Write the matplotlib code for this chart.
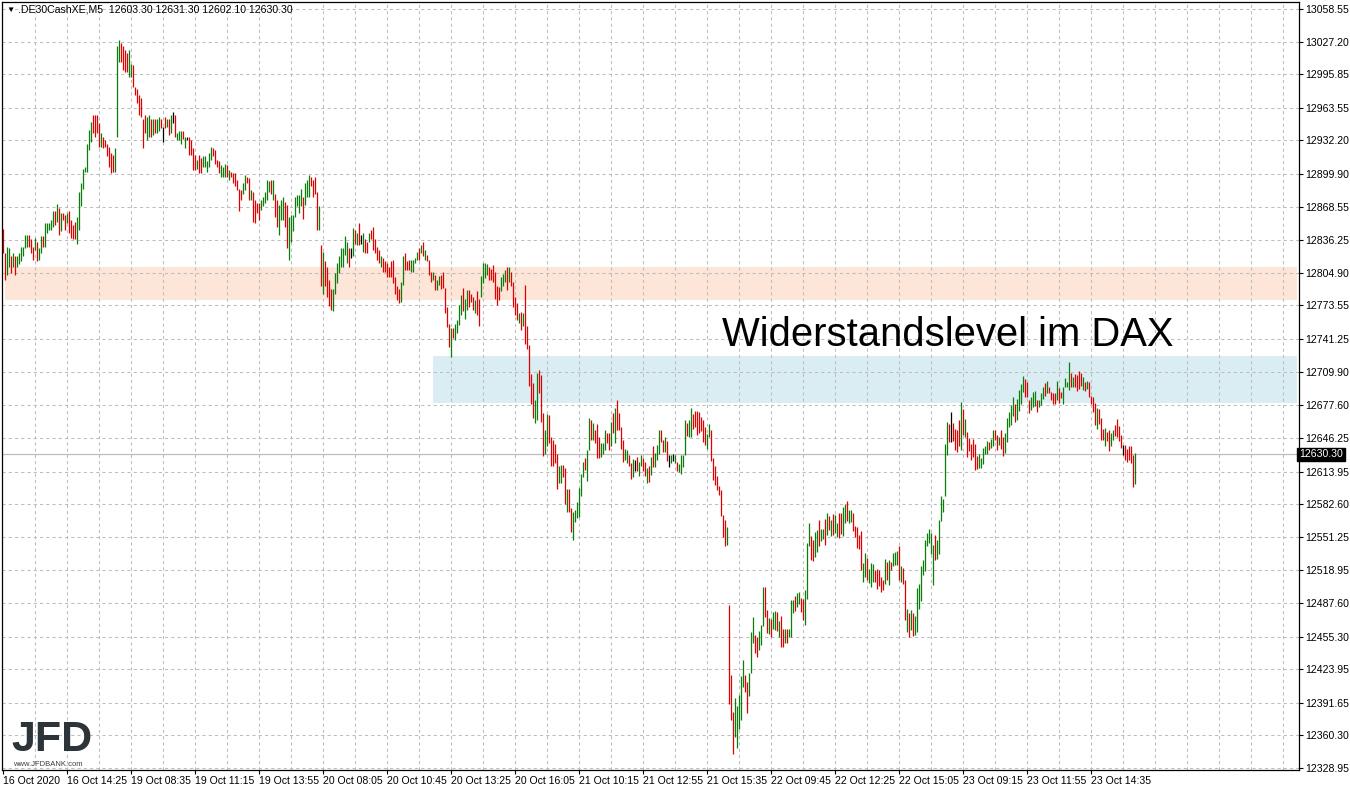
import matplotlib.pyplot as plt
from matplotlib.patches import Rectangle

plt.rcParams['font.family'] = ['Liberation Sans', 'DejaVu Sans']

# DE30 M5 bars, 16 Oct 11:45 .. 23 Oct 16:25 (high / low per bar, colour = up/down)
highs = [
    12847, 12824, 12830, 12829, 12821, 12824, 12821, 12821, 12824, 12830,
    12830, 12841, 12841, 12841, 12837, 12830, 12838, 12835, 12829, 12840,
    12840, 12853, 12853, 12853, 12856, 12864, 12864, 12871, 12867, 12862,
    12862, 12861, 12862, 12864, 12856, 12851, 12854, 12859, 12883, 12891,
    12905, 12907, 12929, 12942, 12950, 12957, 12957, 12957, 12949, 12939,
    12936, 12933, 12929, 12926, 12920, 12918, 12925, 13023, 13029, 13026,
    13023, 13019, 13016, 13019, 13006, 13005, 12984, 12982, 12976, 12973,
    12953, 12957, 12955, 12957, 12953, 12953, 12953, 12953, 12955, 12953,
    12945, 12955, 12953, 12953, 12957, 12960, 12957, 12939, 12941, 12941,
    12941, 12936, 12936, 12936, 12933, 12925, 12918, 12913, 12918, 12915,
    12917, 12917, 12912, 12920, 12926, 12925, 12923, 12913, 12912, 12909,
    12907, 12910, 12909, 12904, 12902, 12901, 12901, 12894, 12886, 12885,
    12891, 12899, 12897, 12896, 12885, 12883, 12875, 12872, 12872, 12875,
    12878, 12883, 12894, 12893, 12894, 12894, 12881, 12875, 12870, 12875,
    12878, 12873, 12870, 12859, 12861, 12861, 12878, 12880, 12880, 12886,
    12878, 12891, 12894, 12899, 12897, 12894, 12897, 12883, 12869, 12832,
    12825, 12816, 12811, 12798, 12789, 12789, 12805, 12814, 12821, 12829,
    12829, 12840, 12835, 12829, 12829, 12848, 12846, 12843, 12853, 12841,
    12843, 12837, 12835, 12843, 12846, 12849, 12837, 12830, 12827, 12821,
    12819, 12816, 12814, 12811, 12816, 12817, 12801, 12792, 12789, 12796,
    12821, 12824, 12816, 12817, 12817, 12817, 12819, 12825, 12829, 12832,
    12835, 12827, 12822, 12817, 12806, 12806, 12803, 12798, 12802, 12803,
    12806, 12790, 12772, 12756, 12752, 12752, 12756, 12760, 12774, 12784,
    12790, 12780, 12788, 12788, 12785, 12782, 12779, 12787, 12780, 12802,
    12814, 12814, 12813, 12811, 12809, 12812, 12806, 12792, 12791, 12801,
    12804, 12808, 12811, 12811, 12806, 12796, 12782, 12776, 12766, 12767,
    12766, 12793, 12754, 12736, 12708, 12699, 12683, 12709, 12712, 12707,
    12670, 12654, 12669, 12668, 12647, 12644, 12640, 12631, 12619, 12620,
    12620, 12617, 12597, 12597, 12579, 12575, 12577, 12585, 12598, 12612,
    12623, 12627, 12635, 12665, 12663, 12661, 12654, 12660, 12647, 12641,
    12641, 12654, 12651, 12651, 12662, 12670, 12675, 12683, 12670, 12657,
    12644, 12636, 12635, 12630, 12622, 12626, 12625, 12628, 12623, 12630,
    12627, 12623, 12617, 12619, 12628, 12638, 12632, 12639, 12654, 12654,
    12644, 12647, 12643, 12630, 12630, 12631, 12630, 12623, 12621, 12630,
    12630, 12663, 12661, 12663, 12675, 12669, 12672, 12672, 12671, 12666,
    12663, 12657, 12650, 12660, 12654, 12627, 12619, 12610, 12600, 12596,
    12572, 12567, 12561, 12486, 12418, 12383, 12396, 12389, 12399, 12417,
    12433, 12418, 12412, 12420, 12460, 12474, 12457, 12455, 12461, 12466,
    12503, 12503, 12481, 12473, 12472, 12479, 12480, 12479, 12470, 12475,
    12463, 12463, 12463, 12463, 12490, 12490, 12494, 12497, 12498, 12492,
    12491, 12500, 12545, 12564, 12552, 12548, 12556, 12558, 12567, 12559,
    12559, 12568, 12574, 12571, 12567, 12573, 12572, 12564, 12574, 12574,
    12580, 12583, 12586, 12577, 12577, 12574, 12562, 12561, 12553, 12557,
    12526, 12536, 12531, 12520, 12526, 12525, 12519, 12520, 12519, 12513,
    12510, 12530, 12527, 12529, 12527, 12536, 12537, 12538, 12542, 12523,
    12521, 12510, 12482, 12478, 12481, 12478, 12475, 12502, 12506, 12523,
    12529, 12548, 12555, 12559, 12555, 12543, 12553, 12548, 12567, 12590,
    12588, 12640, 12662, 12660, 12671, 12661, 12655, 12654, 12663, 12681,
    12674, 12664, 12652, 12646, 12640, 12645, 12640, 12629, 12631, 12627,
    12637, 12638, 12643, 12642, 12645, 12654, 12654, 12649, 12647, 12654,
    12647, 12651, 12665, 12671, 12678, 12686, 12679, 12684, 12692, 12698,
    12706, 12703, 12700, 12683, 12686, 12690, 12691, 12683, 12683, 12689,
    12695, 12699, 12701, 12695, 12690, 12689, 12689, 12701, 12694, 12690,
    12695, 12704, 12700, 12719, 12709, 12705, 12708, 12707, 12711, 12709,
    12705, 12700, 12701, 12700, 12687, 12686, 12680, 12675, 12674, 12665,
    12655, 12656, 12652, 12654, 12651, 12654, 12659, 12664, 12658, 12649,
    12639, 12639, 12636, 12638, 12638, 12630, 12631.3,
]
lows = [
    12824, 12798, 12803, 12811, 12805, 12811, 12803, 12811, 12813, 12816,
    12821, 12829, 12830, 12830, 12824, 12817, 12827, 12816, 12817, 12824,
    12830, 12830, 12843, 12846, 12846, 12849, 12851, 12854, 12841, 12845,
    12856, 12846, 12853, 12843, 12838, 12837, 12837, 12833, 12846, 12869,
    12886, 12902, 12902, 12923, 12931, 12939, 12936, 12939, 12926, 12926,
    12925, 12926, 12917, 12907, 12901, 12902, 12902, 12936, 13008, 13008,
    13000, 12998, 12998, 12993, 12993, 12984, 12976, 12968, 12957, 12955,
    12925, 12939, 12933, 12936, 12936, 12937, 12939, 12939, 12941, 12944,
    12931, 12944, 12945, 12937, 12939, 12949, 12936, 12933, 12933, 12929,
    12934, 12925, 12933, 12918, 12918, 12904, 12904, 12905, 12901, 12901,
    12907, 12907, 12902, 12907, 12913, 12917, 12910, 12907, 12901, 12897,
    12897, 12897, 12897, 12894, 12897, 12891, 12888, 12885, 12864, 12875,
    12881, 12885, 12891, 12875, 12875, 12854, 12853, 12862, 12856, 12865,
    12869, 12872, 12875, 12883, 12881, 12875, 12859, 12849, 12841, 12856,
    12856, 12849, 12829, 12817, 12835, 12845, 12859, 12869, 12862, 12869,
    12857, 12870, 12878, 12878, 12888, 12878, 12881, 12846, 12846, 12792,
    12785, 12792, 12782, 12773, 12769, 12768, 12785, 12795, 12805, 12811,
    12811, 12822, 12814, 12811, 12819, 12821, 12833, 12832, 12832, 12833,
    12825, 12824, 12824, 12835, 12837, 12827, 12824, 12817, 12814, 12811,
    12806, 12806, 12801, 12801, 12801, 12795, 12785, 12779, 12776, 12777,
    12793, 12808, 12808, 12808, 12806, 12806, 12814, 12817, 12817, 12824,
    12821, 12817, 12816, 12803, 12796, 12798, 12788, 12788, 12793, 12789,
    12790, 12766, 12753, 12734, 12724, 12742, 12740, 12747, 12755, 12764,
    12768, 12761, 12769, 12772, 12777, 12769, 12766, 12764, 12754, 12782,
    12795, 12800, 12803, 12798, 12798, 12796, 12780, 12774, 12779, 12787,
    12792, 12796, 12788, 12796, 12792, 12772, 12764, 12760, 12757, 12750,
    12754, 12737, 12732, 12696, 12679, 12665, 12661, 12663, 12689, 12662,
    12629, 12631, 12638, 12641, 12619, 12619, 12622, 12597, 12603, 12603,
    12609, 12583, 12575, 12575, 12556, 12548, 12565, 12569, 12570, 12590,
    12609, 12615, 12605, 12635, 12644, 12644, 12641, 12627, 12627, 12628,
    12631, 12635, 12641, 12635, 12638, 12651, 12641, 12654, 12654, 12636,
    12623, 12625, 12622, 12619, 12607, 12609, 12614, 12614, 12610, 12619,
    12614, 12610, 12603, 12604, 12611, 12618, 12618, 12625, 12631, 12642,
    12633, 12633, 12624, 12618, 12622, 12624, 12622, 12614, 12613, 12612,
    12618, 12630, 12648, 12647, 12647, 12655, 12657, 12649, 12651, 12653,
    12642, 12639, 12636, 12647, 12624, 12606, 12601, 12596, 12591, 12571,
    12551, 12542, 12543, 12390, 12375, 12342, 12359, 12348, 12366, 12375,
    12407, 12402, 12382, 12398, 12420, 12449, 12439, 12436, 12442, 12447,
    12465, 12474, 12459, 12458, 12455, 12463, 12462, 12461, 12455, 12445,
    12445, 12449, 12449, 12455, 12455, 12478, 12480, 12484, 12487, 12479,
    12471, 12466, 12491, 12542, 12529, 12528, 12532, 12537, 12542, 12547,
    12549, 12543, 12553, 12558, 12552, 12553, 12555, 12551, 12550, 12554,
    12552, 12564, 12566, 12564, 12565, 12557, 12551, 12540, 12539, 12519,
    12508, 12513, 12510, 12507, 12503, 12508, 12508, 12501, 12504, 12498,
    12500, 12506, 12510, 12505, 12519, 12523, 12524, 12524, 12510, 12508,
    12506, 12471, 12460, 12455, 12462, 12456, 12457, 12460, 12482, 12489,
    12514, 12518, 12542, 12545, 12535, 12505, 12529, 12530, 12535, 12566,
    12575, 12590, 12630, 12642, 12642, 12643, 12635, 12633, 12638, 12635,
    12649, 12647, 12628, 12634, 12625, 12628, 12615, 12616, 12617, 12617,
    12621, 12631, 12631, 12635, 12637, 12638, 12644, 12635, 12639, 12636,
    12629, 12632, 12642, 12657, 12659, 12667, 12662, 12663, 12672, 12679,
    12690, 12686, 12686, 12670, 12673, 12676, 12677, 12671, 12676, 12678,
    12684, 12687, 12689, 12689, 12683, 12679, 12679, 12683, 12680, 12685,
    12679, 12695, 12695, 12692, 12695, 12695, 12695, 12691, 12693, 12696,
    12692, 12691, 12693, 12686, 12679, 12671, 12659, 12655, 12660, 12644,
    12644, 12638, 12643, 12634, 12638, 12644, 12648, 12647, 12643, 12637,
    12630, 12625, 12623, 12625, 12622, 12599, 12602.1,
]
# g = close above open, r = close below open, k = unchanged
directions = (
    "rrggrgrggg" "gggrrrgrgg" "rgggggrgrg" "rrgrrrrggg" "gggggrrrrg"
    "rrrrrrgggr" "rrrggrrrrr" "rrggrgrggr" "krgrgkrggg" "rgkrrrrgrr"
    "gggggrrrrg" "ggrgrrrrrr" "ggrrgrrrrg" "ggggrgrrgg" "grrggggggg"
    "rgggrrrrgr" "grrrrggggg" "gggrkgrgrk" "grrgrrrrrg" "rrrrrrrrrg"
    "grrrggggrg" "rgrrrgrggr" "rrrrgrgggg" "rggrrrgrrg" "gggrrrrrrg"
    "ggrgrrrrgr" "grrrrrggrr" "rggrrrrrgg" "rrgrrggggg" "grggrgrrrg"
    "ggrrgrgrrr" "rggrrgkrgg" "rrgrgrgggr" "rgrkgkgrgg" "ggrggrrrrr"
    "rrggrrrrrr" "rrgrrrgggg" "grrgggrrgg" "grrgrggrgr" "rgrgggrggr"
    "rgggrrggrg" "grgrgrggrr" "ggrggrrrrr" "ggrgggrrrr" "rgrgrgggrg"
    "rrgrgrgggg" "ggggggrggg" "gggrkrrrrg" "rgrrrrrrgg" "gggrggrrgr"
    "rgggggrggg" "grrrgggrgg" "grgrrrrgrr" "ggggrgrrrr" "grgrrrrgrr"
    "rgrrggrrrr" "krrrrrg"
)
bar_colors = {"g": "#0a7d0a", "r": "#e00000", "k": "#000000"}

price_labels = [13058.55, 13027.20, 12995.85, 12963.55, 12932.20, 12899.90,
                12868.55, 12836.25, 12804.90, 12773.55, 12741.25, 12709.90,
                12677.60, 12646.25, 12613.95, 12582.60, 12551.25, 12518.95,
                12487.60, 12455.30, 12423.95, 12391.65, 12360.30, 12328.95]
time_labels = ["16 Oct 2020", "16 Oct 14:25", "19 Oct 08:35", "19 Oct 11:15",
               "19 Oct 13:55", "20 Oct 08:05", "20 Oct 10:45", "20 Oct 13:25",
               "20 Oct 16:05", "21 Oct 10:15", "21 Oct 12:55", "21 Oct 15:35",
               "22 Oct 09:45", "22 Oct 12:25", "22 Oct 15:05", "23 Oct 09:15",
               "23 Oct 11:55", "23 Oct 14:35"]
last_price = 12630.30
resistance_zone = (12779, 12811)
dax_zone = (12679.5, 12725.3)

bars = list(range(1, len(highs) + 1))

fig = plt.figure(figsize=(13.5, 7.92), dpi=100)
ax = fig.add_axes([2 / 1350, 22 / 792, 1297 / 1350, 768 / 792])
ax.set_xlim(0.35, 648.85)
ax.set_ylim(12327.0, 13065.3)

# zones
ax.add_patch(Rectangle((1.85, resistance_zone[0]), 646, resistance_zone[1] - resistance_zone[0],
                       facecolor="#fde5d8", edgecolor="none", zorder=0))
ax.add_patch(Rectangle((215.85, dax_zone[0]), 432, dax_zone[1] - dax_zone[0],
                       facecolor="#daedf3", edgecolor="none", zorder=0))

# grid
for p in price_labels:
    ax.axhline(p, color="#bdbdbd", lw=0.75, ls=(0, (3, 3)), zorder=1)
for b in range(17, 649, 16):
    ax.axvline(b, color="#bdbdbd", lw=0.75, ls=(0, (3, 3)), zorder=1)

ax.axhline(last_price, color="#bebebe", lw=0.9, zorder=1.5)

ax.vlines(bars, lows, highs, colors=[bar_colors[d] for d in directions],
          lw=0.9, zorder=2)

ax.yaxis.tick_right()
ax.set_yticks(price_labels)
ax.set_yticklabels(["%.2f" % p for p in price_labels])
ax.set_xticks(bars[::32][:len(time_labels)])
ax.set_xticklabels(time_labels, ha="left")
ax.tick_params(axis="both", length=3, width=0.8, labelsize=7.6, pad=1.5, colors="black")
for s in ax.spines.values():
    s.set_linewidth(0.9)

ax.text(1.0, last_price, "12630.30", transform=ax.get_yaxis_transform(),
        ha="left", va="center", color="white", fontsize=7.6,
        bbox=dict(boxstyle="square,pad=0.18", facecolor="black", edgecolor="black"))

fig.text(6 / 1350, 1 - 10 / 792, "\u25bc", fontsize=6, va="center", ha="left")
fig.text(18 / 1350, 1 - 10 / 792,
         ".DE30CashXE,M5  12603.30 12631.30 12602.10 12630.30",
         fontsize=7.6, va="center", ha="left")

fig.text(722 / 1350, 1 - 346 / 792, "Widerstandslevel im DAX",
         fontsize=28.8, va="baseline", ha="left", color="black")

# logo
fig.text(11 / 1350, 1 - 751 / 792, "JFD", fontsize=31, fontweight="bold",
         color="#2c3339", va="baseline", ha="left")
fig.text(13 / 1350, 1 - 765 / 792, "www.JFDBANK.com", fontsize=5.5,
         color="#3a3f44", va="center", ha="left")

fig.savefig("out.png", dpi=100)
